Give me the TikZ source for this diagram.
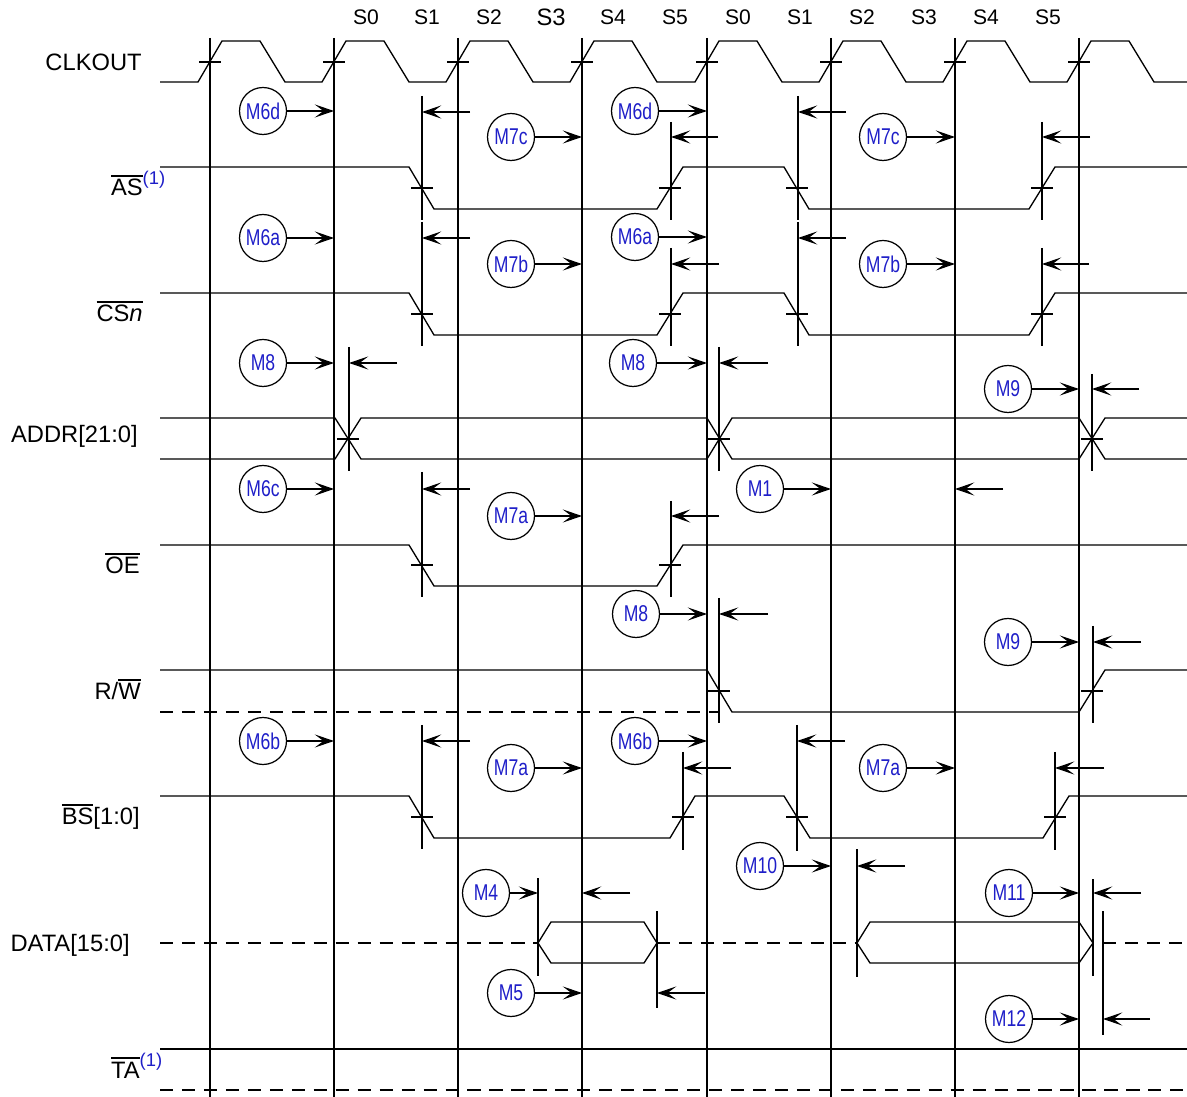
\documentclass[tikz,border=0pt]{standalone}
\usepackage{fontspec}
\setmainfont{Liberation Sans}
\newfontfamily\mfont[FakeStretch=0.77]{Liberation Sans}
\usepackage{tikz}
\usetikzlibrary{arrows.meta}
\definecolor{mblue}{RGB}{30,30,200}
\newcommand{\ovl}[1]{\leavevmode\vbox{\hrule height 0.85pt\kern 1.6pt\hbox{#1}}}
\newcommand{\fnote}{\raisebox{6.5pt}{\fontsize{10.5}{11}\selectfont\color{mblue}(1)}}

\begin{document}
\begin{tikzpicture}[x=0.02cm,y=-0.02cm,
	clkedge/.style={line width=1.3pt},
	wave/.style={line width=0.75pt},
	guide/.style={line width=1.3pt},
	cross/.style={line width=1.2pt},
	float/.style={line width=1.1pt,dash pattern=on 7.5pt off 5pt},
	tim/.style={line width=1.1pt,-{Stealth[length=11pt,width=7.5pt,inset=5pt]}},
	mcircle/.style={circle,draw,line width=0.7pt,minimum size=0.94cm,inner sep=0pt,
		font=\mfont\fontsize{13}{14}\selectfont,text=mblue},
	sig/.style={anchor=base east,inner sep=0pt,font=\fontsize{13.5}{15}\selectfont},
	state/.style={anchor=base,inner sep=0pt,font=\fontsize{12}{13}\selectfont}]
	\useasboundingbox (0,0) rectangle (1187,1097);
	\coordinate (bot) at (0,1097);
	\foreach \x [count=\i from 0] in {210,334,458,582,707,831,955,1079}
		\coordinate (e\i) at (\x,38);
	\coordinate (d0) at (538,878);

	% clock edges
	\foreach \i in {0,...,7}
		\draw[clkedge] (e\i) -- (e\i |- bot);

	% states
	\foreach \s/\x [count=\i] in {S0/366,S1/427,S2/489,S4/613,S5/675,S0/738,S1/800,S2/862,S3/924,S4/986,S5/1048}
		\node[state] (st\i) at (\x,25) {\s};
	\node[state,font=\fontsize{13.5}{14}\selectfont] (st0) at (551,26) {S3};

	% signal names
	\node[sig] (lclk) at (142,71) {CLKOUT};
	\node[sig] (las) at (143,196) {\ovl{AS}\rlap{\fnote}};
	\node[sig] (lcs) at (143,322) {\ovl{CS\textit{n}}};
	\node[sig] (laddr) at (138,443) {ADDR[21:0]};
	\node[sig] (loe) at (140,574) {\ovl{OE}};
	\node[sig] (lrw) at (141,700) {R/\ovl{W}};
	\node[sig] (lbs) at (140,825) {\ovl{BS}[1:0]};
	\node[sig] (ldata) at (130,951) {DATA[15:0]};
	\node[sig] (lta) at (140,1078) {\ovl{TA}\rlap{\fnote}};

	% waveforms
	\draw[wave] (160,82) foreach \x in {210,334,458,582,707,831,955,1079}
		{ -- (\x-12,82) -- (\x+12,41) -- (\x+50,41) -- (\x+75,82) } -- (1187,82);
	\foreach \y in {167,293}
		\draw[wave] (160,\y) -- (409,\y) -- (434,\y+42) -- (657,\y+42) -- (683,\y) -- (784,\y)
			-- (809,\y+42) -- (1029,\y+42) -- (1055,\y) -- (1187,\y);
	\draw[wave] (160,418) -- (335,418) -- (361,459) -- (707,459) -- (732,418) -- (1079,418) -- (1105,459) -- (1187,459);
	\draw[wave] (160,459) -- (335,459) -- (361,418) -- (707,418) -- (732,459) -- (1079,459) -- (1105,418) -- (1187,418);
	\draw[wave] (160,545) -- (409,545) -- (434,586) -- (657,586) -- (683,545) -- (1187,545);
	\draw[wave] (160,670) -- (707,670) -- (732,712) -- (1079,712) -- (1105,670) -- (1187,670);
	\draw[float] (160,712) -- (719,712);
	\draw[wave] (160,796) -- (409,796) -- (434,838) -- (670,838) -- (695,796) -- (784,796)
		-- (810,838) -- (1043,838) -- (1069,796) -- (1187,796);
	\draw[float] (160,943) -- (538,943);
	\draw[wave] (538,943) -- (551,922) -- (644,922) -- (657,943) -- (644,963) -- (551,963) -- cycle;
	\draw[float] (657,943) -- (857,943);
	\draw[wave] (857,943) -- (870,922) -- (1079,922) -- (1093,943) -- (1079,963) -- (870,963) -- cycle;
	\draw[float] (1103,943) -- (1187,943);
	\draw[line width=1.2pt] (160,1049) -- (1187,1049);
	\draw[float] (160,1090) -- (1187,1090);

	% crossing ticks
	\foreach \x/\y in {210/62,334/62,458/62,582/62,707/62,831/62,955/62,1079/62,
		422/188,670/188,797/188,1042/188,422/314,670/314,797/314,1042/314,
		348/439,719/439,1092/439,422/565,670/565,719/691,1092/691,
		422/817,683/817,797/817,1055/817}
		\draw[cross] (\x-11,\y) -- (\x+11,\y);

	% timing guides
	\foreach \x/\a/\b in {422/96/220,422/222/346,422/472/597,422/725/849,349/347/471,
		671/122/220,671/248/346,671/501/597,683/752/850,798/96/220,798/222/346,797/725/851,
		719/347/471,719/598/723,1042/122/220,1042/248/346,1055/752/850,1092/374/471,
		1093/626/723,538/878/976,657/911/1008,857/849/977,1093/879/976,1103/911/1035}
		\draw[guide] (\x,\a) -- (\x,\b);

	% parameters
	\foreach \n/\t/\x/\y/\e in {m6d1/M6d/263/111/e1,m7c1/M7c/511/137/e3,m6d2/M6d/635/111/e4,
		m7c2/M7c/883/137/e6,m6a1/M6a/263/238/e1,m7b1/M7b/511/264/e3,m6a2/M6a/635/237/e4,
		m7b2/M7b/883/264/e6,m8a/M8/263/363/e1,m8b/M8/633/363/e4,m9a/M9/1008/389/e7,
		m6c/M6c/263/489/e1,m1/M1/760/489/e5,m7a1/M7a/511/516/e3,m8c/M8/636/614/e4,
		m9b/M9/1008/642/e7,m6b1/M6b/263/741/e1,m6b2/M6b/635/741/e4,m7a2/M7a/511/768/e3,
		m7a3/M7a/883/768/e6,m10/M10/760/866/e5,m4/M4/486/893/d0,m11/M11/1009/893/e7,
		m5/M5/511/993/e3,m12/M12/1009/1019/e7}
	{
		\node[mcircle] (\n) at (\x,\y) {\t};
		\draw[tim] (\n) -- (\n -| \e);
	}
	\foreach \a/\b/\y in {470/422/112,846/798/112,718/671/137,1090/1042/137,470/422/238,
		846/798/238,719/671/264,1089/1042/264,397/349/363,768/719/363,1139/1092/389,
		470/422/489,1003/955/489,719/671/516,768/719/614,1141/1093/642,470/422/741,
		845/797/741,731/683/768,1104/1055/768,905/857/866,630/582/893,1141/1093/893,
		705/657/993,1150/1103/1019}
		\draw[tim] (\a,\y) -- (\b,\y);
\end{tikzpicture}
\end{document}
